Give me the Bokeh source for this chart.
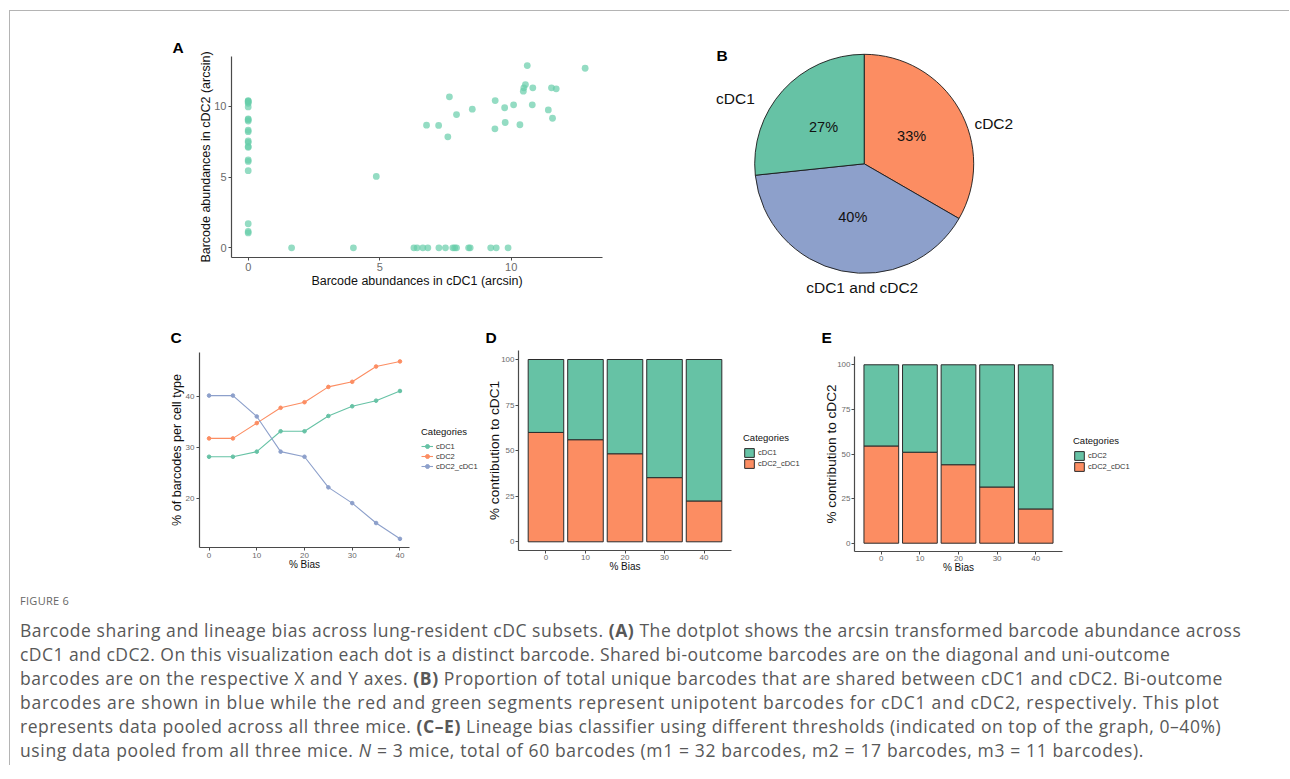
import math
from bokeh.plotting import figure
from bokeh.models import Range1d, FixedTicker, Legend, LegendItem, Div
from bokeh.layouts import column, row
from bokeh.embed import file_html
from bokeh.resources import INLINE
from bokeh.core.properties import value

# ---------------- data ----------------
# Panel A: barcode abundances (arcsin)
only_cdc2_y = [10.4, 10.35, 10.3, 10.2, 9.95, 9.1, 9.05, 8.95, 8.3, 8.2,
               7.55, 7.45, 7.15, 7.1, 6.2, 6.1, 5.45, 1.7, 1.15, 1.05]
only_cdc1_x = [1.65, 4.0, 6.3, 6.42, 6.64, 6.83, 7.25, 7.5, 7.78, 7.85,
               7.92, 8.38, 8.44, 9.22, 9.43, 9.88]
shared_x = [4.87, 10.61, 12.81, 10.54, 10.48, 10.46, 10.82, 11.53, 11.71, 7.65,
            9.39, 10.09, 10.8, 9.75, 8.52, 11.41, 7.92, 11.57, 9.77, 6.78,
            7.24, 10.33, 9.38, 7.59]
shared_y = [5.04, 12.87, 12.68, 11.53, 11.3, 11.06, 11.3, 11.3, 11.23, 10.66,
            10.4, 10.1, 10.1, 9.89, 9.79, 9.74, 9.41, 9.15, 8.85, 8.66,
            8.64, 8.69, 8.4, 7.84]

# Panel B: barcode counts per category (clockwise from 12 o'clock)
pie_labels = ["cDC2", "cDC1 and cDC2", "cDC1"]
pie_counts = [20, 24, 16]

# Panel C
bias = [0, 5, 10, 15, 20, 25, 30, 35, 40]
c_cdc1 = [28.1, 28.1, 29.1, 33.1, 33.1, 36.1, 38.0, 39.1, 41.0]
c_cdc2 = [31.7, 31.7, 34.7, 37.7, 38.8, 41.8, 42.8, 45.8, 46.8]
c_shared = [40.1, 40.1, 36.0, 29.1, 28.1, 22.1, 19.0, 15.1, 12.0]
c_series = ["cDC1", "cDC2", "cDC2_cDC1"]

# Panels D / E
bar_bias = [0, 10, 20, 30, 40]
d_shared = [60.0, 56.0, 48.3, 35.2, 22.4]   # cDC2_cDC1 share of cDC1 contribution
e_shared = [54.5, 51.0, 44.0, 31.5, 19.2]   # cDC2_cDC1 share of cDC2 contribution

# ---------------- style ----------------
FONT = "Liberation Sans"
GREEN = "#66c2a5"
ORANGE = "#fc8d62"
BLUE = "#8da0cb"
POINT = "#66cdaa"
AX = "#4a4a4a"
TICKLAB = "#6a6a6a"
BAR_LINE = "#2b2b2b"


def make_fig(w, h, mbl, mbr, mbt, mbb, xr, yr):
    p = figure(width=w, height=h, x_range=Range1d(*xr), y_range=Range1d(*yr),
               output_backend="svg", toolbar_location=None,
               min_border_left=mbl, min_border_right=mbr,
               min_border_top=mbt, min_border_bottom=mbb)
    p.outline_line_color = None
    p.xgrid.visible = False
    p.ygrid.visible = False
    p.border_fill_color = "white"
    return p


def blank_fig(w, h):
    p = figure(width=w, height=h, x_range=Range1d(0, 1), y_range=Range1d(0, 1),
               output_backend="svg", toolbar_location=None,
               x_axis_type=None, y_axis_type=None,
               min_border_left=0, min_border_right=0, min_border_top=0, min_border_bottom=0)
    p.outline_line_color = None
    p.xgrid.visible = False
    p.ygrid.visible = False
    return p


def style_axes(p, xticks, yticks, tick_size, title_size, tick_out, lab_standoff,
               xt_standoff, yt_standoff, xtitle, ytitle, xtitle_size=None):
    p.xaxis.ticker = FixedTicker(ticks=xticks)
    p.yaxis.ticker = FixedTicker(ticks=yticks)
    p.xaxis.axis_label = xtitle
    p.yaxis.axis_label = ytitle
    for ax in (p.xaxis[0], p.yaxis[0]):
        ax.axis_line_color = AX
        ax.axis_line_width = 1.2
        ax.major_tick_line_color = AX
        ax.major_tick_in = 0
        ax.major_tick_out = tick_out
        ax.minor_tick_line_color = None
        ax.major_label_text_font = FONT
        ax.major_label_text_font_size = f"{tick_size}px"
        ax.major_label_text_color = TICKLAB
        ax.major_label_standoff = lab_standoff
        ax.axis_label_text_font = FONT
        ax.axis_label_text_font_style = "normal"
        ax.axis_label_text_color = "#111111"
    p.yaxis[0].axis_label_text_font_size = f"{title_size}px"
    p.xaxis[0].axis_label_text_font_size = f"{xtitle_size or title_size}px"
    p.xaxis[0].axis_label_standoff = xt_standoff
    p.yaxis[0].axis_label_standoff = yt_standoff


def panel_letter(p, letter, offset, standoff):
    p.title.text = letter
    p.title.align = "left"
    p.title.offset = offset
    p.title.standoff = standoff
    p.title.vertical_align = "bottom"
    p.title.text_font = FONT
    p.title.text_font_style = "bold"
    p.title.text_font_size = "15.5px"
    p.title.text_color = "#000000"


def add_legend(p, items, vx, vy, glyph_w, glyph_h, standoff):
    lg = Legend(items=items, location=(vx, vy), title="Categories")
    lg.title_text_font = FONT
    lg.title_text_font_size = "9.5px"
    lg.title_text_font_style = "normal"
    lg.title_text_color = "#111111"
    lg.title_standoff = 4
    lg.label_text_font = FONT
    lg.label_text_font_size = "7.5px"
    lg.label_text_color = "#333333"
    lg.label_standoff = standoff
    lg.glyph_width = glyph_w
    lg.glyph_height = glyph_h
    lg.label_height = glyph_h
    lg.spacing = 0
    lg.padding = 0
    lg.margin = 0
    lg.border_line_color = None
    lg.background_fill_alpha = 0
    p.add_layout(lg, "center")


# ---------------- Panel A ----------------
# frame: page x 231..602, y 56..257
pA = make_fig(630, 289, 221, 38, 45, 43, (-0.635, 13.47), (-0.685, 13.51))
ax_x = [0.0] * len(only_cdc2_y) + only_cdc1_x + shared_x
ax_y = only_cdc2_y + [0.0] * len(only_cdc1_x) + shared_y
pA.scatter(ax_x, ax_y, size=6.8, fill_color=POINT, fill_alpha=0.7, line_color=None)
style_axes(pA, [0, 5, 10], [0, 5, 10], 11, 12.5, 3, 2, 0, -2,
           "Barcode abundances in cDC1 (arcsin)", "Barcode abundances in cDC2 (arcsin)")
panel_letter(pA, "A", -59, 2)

# ---------------- Panel B ----------------
WB, HB = 460, 289
pB = figure(width=WB, height=HB, x_range=Range1d(0, WB), y_range=Range1d(0, HB),
            output_backend="svg", toolbar_location=None,
            x_axis_type=None, y_axis_type=None,
            min_border_left=0, min_border_right=0, min_border_top=0, min_border_bottom=0)
pB.outline_line_color = None
pB.xgrid.visible = False
pB.ygrid.visible = False
cx, cy, R = 223.7, 136.7, 109.5
total = sum(pie_counts)
pie_colors = [ORANGE, BLUE, GREEN]
starts, ends, mids = [], [], []
acc = 0.0
for c in pie_counts:
    s = math.pi / 2 - 2 * math.pi * acc / total
    e = s - 2 * math.pi * c / total
    starts.append(s)
    ends.append(e)
    mids.append((s + e) / 2)
    acc += c
pB.wedge(x=[cx] * 3, y=[cy] * 3, radius=R, start_angle=starts, end_angle=ends,
         direction="clock", fill_color=pie_colors, line_color="#1a1a1a", line_width=0.9)
pct = [f"{round(100 * c / total)}%" for c in pie_counts]
pB.text(x=[cx + 0.5 * R * math.cos(m) for m in mids],
        y=[cy + 0.5 * R * math.sin(m) for m in mids],
        text=pct, text_font=value(FONT), text_font_size="14.5px",
        text_align="center", text_baseline="middle", text_color="#111111")
outer_offsets = [(129.6, 40.0), (-2.0, -123.4), (-128.7, 65.0)]
pB.text(x=[cx + o[0] for o in outer_offsets], y=[cy + o[1] for o in outer_offsets],
        text=pie_labels, text_font=value(FONT), text_font_size="15.5px",
        text_align="center", text_baseline="middle", text_color="#111111")
pB.text(x=[721.5 - 640], y=[300 - 55], text=["B"], text_font=value(FONT),
        text_font_style="bold", text_font_size="15.5px",
        text_align="center", text_baseline="middle", text_color="#000000")

# ---------------- Panel C ----------------
# page x 10..418, frame x 199..409, y 352..547
pC = make_fig(408, 280, 189, 9, 52, 33, (-2, 42), (10.3, 48.55))
for name, vals, col in zip(c_series, [c_cdc1, c_cdc2, c_shared], [GREEN, ORANGE, BLUE]):
    pC.line(bias, vals, line_color=col, line_width=1.1)
    pC.scatter(bias, vals, size=3.6, fill_color=col, line_color=col)
style_axes(pC, [0, 10, 20, 30, 40], [20, 30, 40], 8, 12.6, 3, 2, -2, -1,
           "% Bias", "% of barcodes per cell type", xtitle_size=10)
panel_letter(pC, "C", -29, 13)

# legend for C (page x 418..482); key renderers sit outside the visible range
lC = blank_fig(64, 280)
itemsC = []
for name, col in zip(c_series, [GREEN, ORANGE, BLUE]):
    l = lC.line(x=[5, 6], y=[5, 5], line_color=col, line_width=1.1)
    s = lC.scatter(x=[5], y=[5], size=3.6, fill_color=col, line_color=col)
    itemsC.append(LegendItem(label=name, renderers=[l, s]))
add_legend(lC, itemsC, 3, 109, 12, 10, 3)


# ---------------- Panels D / E ----------------
def bar_panel(w, mbl, mbr, mbt, mbb, xr, yr, shared_vals, ytitle, letter, yt_standoff, letter_standoff):
    p = make_fig(w, 280, mbl, mbr, mbt, mbb, xr, yr)
    full = [100.0] * len(bar_bias)
    p.vbar(x=bar_bias, width=9, bottom=0, top=shared_vals,
           fill_color=ORANGE, line_color=BAR_LINE, line_width=1.0)
    p.vbar(x=bar_bias, width=9, bottom=shared_vals, top=full,
           fill_color=GREEN, line_color=BAR_LINE, line_width=1.0)
    style_axes(p, [0, 10, 20, 30, 40], [0, 25, 50, 75, 100], 8, 13.6, 3, 1, -2, yt_standoff,
               "% Bias", ytitle, xtitle_size=10)
    panel_letter(p, letter, -33, letter_standoff)
    return p


def bar_legend(w, other_name, vx, vy):
    lf = blank_fig(w, 280)
    r_ot = lf.vbar(x=[5], width=1, bottom=[4], top=[5], fill_color=GREEN,
                   line_color=BAR_LINE, line_width=1.0)
    r_sh = lf.vbar(x=[5], width=1, bottom=[4], top=[5], fill_color=ORANGE,
                   line_color=BAR_LINE, line_width=1.0)
    items = [LegendItem(label=other_name, renderers=[r_ot]),
             LegendItem(label="cDC2_cDC1", renderers=[r_sh])]
    add_legend(lf, items, vx, vy, 12, 11, 3)
    return lf


# D: page x 482..737, frame x 518..731, y 350..550
pD = bar_panel(255, 36, 6, 50, 30, (-6.95, 46.95), (-4.77, 104.94), d_shared,
               "% contribution to cDC1", "D", -4, 9)
lD = bar_legend(66, "cDC1", 6, 111)
# E: page x 803..1066, frame x 854..1062, y 356..551
pE = bar_panel(263, 51, 4, 56, 29, (-6.95, 46.95), (-4.65, 104.65), e_shared,
               "% contribution to cDC2", "E", -5, 22)
lE = bar_legend(74, "cDC2", 7, 108)

# ---------------- caption ----------------
cap_lines = [
    ("Barcode sharing and lineage bias across lung-resident cDC subsets. <b>(A)</b> The dotplot shows the arcsin transformed barcode abundance across", 0.55),
    ("cDC1 and cDC2. On this visualization each dot is a distinct barcode. Shared bi-outcome barcodes are on the diagonal and uni-outcome", 0.45),
    ("barcodes are on the respective X and Y axes. <b>(B)</b> Proportion of total unique barcodes that are shared between cDC1 and cDC2. Bi-outcome", 0.58),
    ("barcodes are shown in blue while the red and green segments represent unipotent barcodes for cDC1 and cDC2, respectively. This plot", 0.78),
    ("represents data pooled across all three mice. <b>(C\u2013E)</b> Lineage bias classifier using different thresholds (indicated on top of the graph, 0\u201340%)", 0.55),
    ("using data pooled from all three mice. <i>N</i> = 3 mice, total of 60 barcodes (m1 = 32 barcodes, m2 = 17 barcodes, m3 = 11 barcodes).", 0.63),
]
parts = ['<div style="position:relative;width:1279px;height:185px;font-family:\'Open Sans\',sans-serif;color:#585858;">',
         '<div style="position:absolute;left:10px;top:13px;font-size:11px;letter-spacing:0.3px;color:#666;">FIGURE 6</div>']
for i, (txt, ls) in enumerate(cap_lines):
    parts.append(f'<div style="position:absolute;left:10px;top:{38 + 24 * i}px;font-size:17.5px;'
                 f'line-height:24px;letter-spacing:{ls}px;white-space:nowrap;">{txt}</div>')
parts.append('</div>')
cap = Div(text="".join(parts), width=1279, height=185, margin=0)

layout = column(
    row(pA, column(pB)),
    row(column(pC), column(lC), column(pD), column(lD), column(pE), column(lE)),
    cap,
    margin=(10, 0, 0, 9),
    styles={"border-top": "1px solid #b4b4b4", "border-left": "1px solid #b4b4b4"})

open("out.html", "w").write(file_html(layout, INLINE))
